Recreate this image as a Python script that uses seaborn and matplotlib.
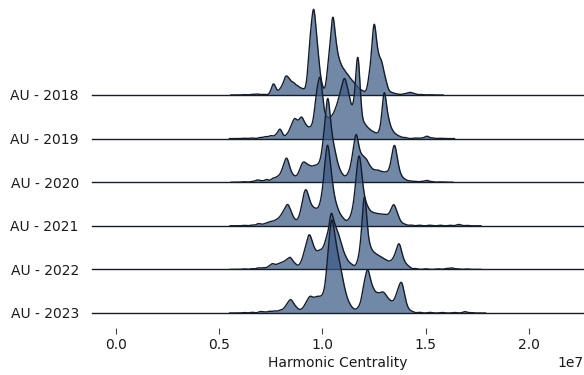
import numpy as np
import seaborn as sns
import matplotlib.pyplot as plt


row_labels = ['AU - 2018', 'AU - 2019', 'AU - 2020', 'AU - 2021', 'AU - 2022', 'AU - 2023']
x_ticks = [0.0, 0.5, 1.0, 1.5, 2.0]

hc_2018 = [0.620, 0.660, 0.685, 0.715, 0.745, 0.763, 0.782, 0.802, 0.822, 0.840, 0.860, 0.880,
           0.900, 0.920, 0.940, 0.958, 0.976, 0.994, 1.012, 1.031, 1.050, 1.068, 1.086, 1.104,
           1.122, 1.140, 1.158, 1.176, 1.194, 1.212, 1.231, 1.250, 1.268, 1.286, 1.304, 1.322,
           1.340, 1.362, 1.390, 1.408, 1.425, 1.445, 1.475, 1.520]
w_2018 = [0.4, 0.6, 1.0, 0.6, 0.5, 11, 2.5, 6.5, 16, 12.5, 10.5, 7.5,
          5.5, 4, 44, 73, 37, 9, 1.5, 29, 69, 35, 24, 19,
          15.5, 11.5, 8.5, 5, 3.3, 1.5, 20, 64, 30, 27, 13, 2.5,
          1.8, 1, 0.7, 1.2, 2.3, 1.1, 0.5, 0.3]

hc_2019 = [0.620, 0.660, 0.700, 0.725, 0.750, 0.775, 0.795, 0.815, 0.833, 0.850, 0.866, 0.883,
           0.900, 0.918, 0.936, 0.954, 0.972, 0.990, 1.008, 1.026, 1.044, 1.062, 1.079, 1.095,
           1.110, 1.126, 1.141, 1.157, 1.172, 1.188, 1.206, 1.224, 1.242, 1.260, 1.280, 1.299,
           1.318, 1.336, 1.354, 1.374, 1.400, 1.450, 1.480, 1.505, 1.530, 1.570]
w_2019 = [0.4, 0.6, 1.1, 1.9, 2.8, 3.1, 9.2, 1.3, 3.8, 9, 15.5, 11.5,
          17.5, 10.5, 8, 10, 37, 52, 19, 15, 16.5, 21, 27.5, 34.5,
          42, 30, 18.5, 23.5, 72.5, 14, 11, 7.5, 5.5, 4, 6, 44,
          16, 6.5, 3.5, 2, 1.1, 0.6, 0.5, 2.4, 0.7, 0.3]

hc_2020 = [0.620, 0.660, 0.685, 0.705, 0.730, 0.760, 0.780, 0.796, 0.811, 0.827, 0.843, 0.860,
           0.876, 0.892, 0.907, 0.923, 0.940, 0.958, 0.975, 0.992, 1.009, 1.026, 1.043, 1.060,
           1.077, 1.094, 1.111, 1.128, 1.146, 1.163, 1.180, 1.197, 1.214, 1.232, 1.250, 1.268,
           1.286, 1.304, 1.320, 1.336, 1.350, 1.366, 1.384, 1.402, 1.425, 1.450, 1.480, 1.505,
           1.530, 1.570]
w_2020 = [0.5, 0.7, 2.1, 1.2, 2.7, 3.6, 4, 4.5, 10.5, 19.5, 9, 4.5,
          3.5, 8.5, 14.5, 12.5, 12, 12, 12, 15, 36, 70, 36, 23,
          11.5, 6, 3.5, 7, 19, 40, 21, 18.5, 17, 11.5, 9, 9.3,
          8, 7.3, 6.5, 15, 29, 12, 4, 2, 1.2, 0.9, 0.8, 1.8,
          0.6, 0.3]

hc_2021 = [0.620, 0.660, 0.690, 0.710, 0.730, 0.750, 0.770, 0.786, 0.801, 0.816, 0.832, 0.848,
           0.864, 0.878, 0.892, 0.907, 0.921, 0.936, 0.952, 0.968, 0.984, 0.998, 1.012, 1.026,
           1.042, 1.058, 1.074, 1.090, 1.104, 1.118, 1.134, 1.150, 1.165, 1.179, 1.194, 1.210,
           1.226, 1.244, 1.262, 1.280, 1.298, 1.315, 1.332, 1.347, 1.364, 1.382, 1.400, 1.430,
           1.470, 1.520, 1.570, 1.620, 1.660, 1.700]
w_2021 = [0.5, 0.7, 2.1, 1.1, 2.5, 3.6, 4, 4.4, 6.8, 10.5, 16.5, 9.5,
          4.3, 2.2, 7, 18, 25, 17, 12.5, 11.5, 11, 17, 35, 60,
          36, 19, 11.5, 6.5, 3.8, 2.5, 5.5, 12, 31, 52, 26, 15,
          11.5, 10, 9.3, 8.9, 8.5, 7.5, 10, 16.5, 8.5, 2.3, 1.2, 0.7,
          0.6, 0.6, 0.6, 0.5, 1.4, 0.4]

hc_2022 = [0.620, 0.660, 0.690, 0.715, 0.740, 0.758, 0.775, 0.790, 0.806, 0.825, 0.844, 0.864,
           0.884, 0.902, 0.918, 0.935, 0.951, 0.968, 0.986, 1.004, 1.022, 1.042, 1.060, 1.077,
           1.094, 1.111, 1.128, 1.145, 1.169, 1.186, 1.203, 1.220, 1.237, 1.254, 1.271, 1.288,
           1.305, 1.322, 1.339, 1.355, 1.371, 1.387, 1.404, 1.420, 1.450, 1.500, 1.560, 1.600,
           1.625, 1.650, 1.700]
w_2022 = [0.5, 0.7, 1.5, 1.7, 2.3, 4.8, 2.8, 3.8, 5.3, 7.5, 10.5, 5.5,
          2.5, 6.5, 15.5, 27, 18.5, 13, 14.5, 15.5, 26, 48, 32, 26,
          16.5, 9.5, 5, 3.5, 4.5, 17, 66, 22, 14, 11.5, 10, 8.5,
          7, 5.5, 6.5, 11, 21, 9, 3.8, 2, 0.9, 0.6, 0.6, 0.9,
          1.5, 0.6, 0.4]

hc_2023 = [0.620, 0.660, 0.700, 0.720, 0.745, 0.770, 0.795, 0.815, 0.831, 0.847, 0.863, 0.878,
           0.893, 0.908, 0.924, 0.940, 0.955, 0.970, 0.985, 1.000, 1.014, 1.029, 1.045, 1.061,
           1.077, 1.093, 1.110, 1.128, 1.146, 1.163, 1.180, 1.200, 1.218, 1.234, 1.250, 1.268,
           1.286, 1.302, 1.318, 1.334, 1.352, 1.368, 1.384, 1.400, 1.417, 1.435, 1.470, 1.520,
           1.580, 1.640, 1.690, 1.720]
w_2023 = [0.5, 0.7, 1.4, 0.9, 1.7, 2, 2.5, 3.2, 6.5, 10.5, 5.5, 3,
          1.5, 3.5, 8, 12, 9, 10.5, 10.5, 10, 14, 44, 70, 50,
          38, 28, 16, 8, 3.5, 2, 5.5, 22, 35, 20, 16, 15,
          15, 13.5, 9.5, 8, 10, 17, 24, 9.5, 2.5, 1.2, 0.7, 0.6,
          0.5, 0.5, 1.4, 0.4]

samples = [(hc_2018, w_2018), (hc_2019, w_2019), (hc_2020, w_2020),
           (hc_2021, w_2021), (hc_2022, w_2022), (hc_2023, w_2023)]

fill_color = '#3c5a86'
line_color = '#141d2b'
text_color = '#1a1a1a'
bw = 0.010e7

plt.rcParams['font.family'] = ['DejaVu Sans']
plt.rcParams['font.size'] = 10

fig = plt.figure(figsize=(5.84, 3.75), dpi=100)
fig_w, fig_h = 584, 375
ax_left = 92
ax_height = 95
first_base = 95
row_step = 43.6

for i, (label, (hc, w)) in enumerate(zip(row_labels, samples)):
    base = first_base + row_step * i
    ax = fig.add_axes([ax_left / fig_w, (fig_h - base) / fig_h,
                       (fig_w - ax_left) / fig_w, ax_height / fig_h])
    ax.patch.set_alpha(0)
    x = np.array(hc) * 1e7
    w = np.array(w, dtype=float)
    std = np.sqrt(np.cov(x, aweights=w))
    kde_kws = dict(x=x, weights=w, bw_method=bw / std, gridsize=1200, cut=4, ax=ax)
    sns.kdeplot(fill=True, color=fill_color, alpha=0.72, linewidth=0, **kde_kws)
    sns.kdeplot(color=line_color, linewidth=1, **kde_kws)
    ax.axhline(0, color=line_color, lw=1, clip_on=False)
    ax.set_xlim(-0.115e7, 2.266e7)
    ax.set_ylim(0, ax_height / (w.sum() * bw * np.sqrt(2 * np.pi)) * 1.04)
    ax.set_yticks([0])
    ax.set_yticklabels([label])
    ax.tick_params(axis='y', left=False, length=0, pad=9.5, labelsize=10, labelcolor=text_color)
    ax.set_ylabel('')
    if i == len(row_labels) - 1:
        ax.spines['bottom'].set_position(('outward', 11))
        ax.set_xticks(np.array(x_ticks) * 1e7)
        ax.tick_params(axis='x', bottom=True, top=False, length=4, width=0.8, pad=3,
                       color='#444444', labelsize=10, labelcolor=text_color)
        ax.set_xlabel('Harmonic Centrality', fontsize=10, color=text_color, labelpad=3)
    else:
        ax.set_xticks([])
        ax.set_xlabel('')
    for spine in ax.spines.values():
        spine.set_visible(False)

fig.savefig('out.png', dpi=100)
